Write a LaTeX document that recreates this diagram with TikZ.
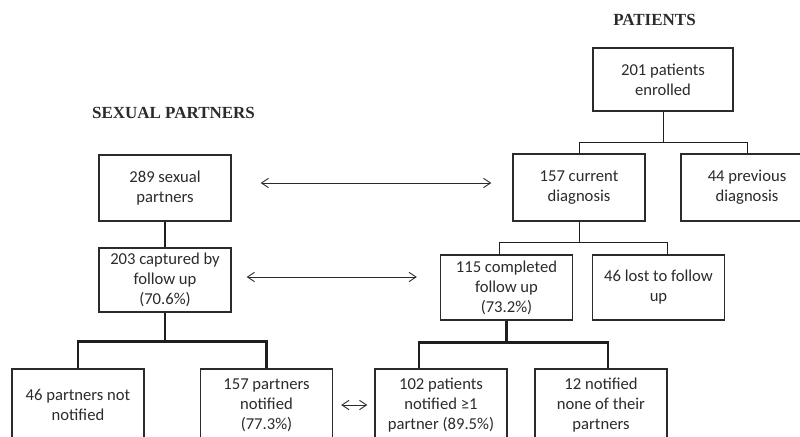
\documentclass[tikz,border=0pt]{standalone}
\usepackage{fontspec}
\setmainfont{Carlito}
\newfontfamily\headfont{Liberation Serif}
\usepackage{tikz}
\usetikzlibrary{calc,arrows.meta,positioning}
\definecolor{inkgray}{HTML}{2B2B2B}
\definecolor{linegray}{HTML}{1E1E1E}

\begin{document}
\begin{tikzpicture}[x=0.03cm, y=-0.03cm,
  box/.style={draw=inkgray, line width=1.1pt, fill=white, text=inkgray,
    minimum width=3.96cm, minimum height=1.98cm, inner sep=0pt, align=center,
    font=\fontsize{14.2}{17}\selectfont},
  lowbox/.style={box, minimum height=2.16cm},
  head/.style={text=inkgray, font=\headfont\fontsize{14.5}{17}\selectfont\bfseries},
  thinline/.style={draw=linegray, line width=0.8pt},
  thickline/.style={draw=linegray, line width=2pt},
  dblarr/.style={{Straight Barb[length=6pt,width=8pt]}-{Straight Barb[length=6pt,width=8pt]},
    draw=inkgray, line width=0.8pt}
]
  \useasboundingbox (0,0) rectangle (800,436);
  \clip (0,0) rectangle (800,436);

  % Headings
  \node[head] (hpat) at (654.5, 20) {PATIENTS};
  \node[head] (hsex) at (173.5, 113) {SEXUAL PARTNERS};

  % Patients
  \node[box, minimum width=4.2cm, minimum height=1.89cm] (enr) at (663, 79.5) {201 patients\\enrolled};
  \node[box, minimum height=2.01cm] (cur) at (579, 187.5) {157 current\\diagnosis};
  \node[box, minimum height=2.01cm] (prev) at (747, 187.5) {44 previous\\diagnosis};
  \node[box, minimum height=1.95cm] (comp) at (506.5, 287.5) {115 completed\\follow up\\(73.2\%)};
  \node[box, minimum height=1.95cm] (lost) at (658.5, 287.5) {46 lost to follow\\up};
  \node[lowbox] (pat) at (441, 405) {102 patients\\notified ≥1\\partner (89.5\%)};
  \node[lowbox] (none) at (601, 405) {12 notified\\none of their\\partners};

  % Sexual partners
  \node[box] (sex) at (165, 188) {289 sexual\\partners};
  \node[box, minimum height=1.92cm] (capt) at (165, 280) {203 captured by\\follow up\\(70.6\%)};
  \node[lowbox] (pnn) at (78, 405) {46 partners not\\notified};
  \node[lowbox] (pn) at (266.5, 405) {157 partners\\notified\\(77.3\%)};

  % Tree connectors
  \draw[thinline] (enr.south) -- ++(0,31) coordinate (s1);
  \draw[thinline] (s1) -| (cur.north);
  \draw[thinline] (s1) -| (prev.north);
  \draw[thinline] (cur.south) -- ++(0,21) coordinate (s2);
  \draw[thinline] (s2) -| ($(comp.north)+(-7.5,0)$);
  \draw[thinline] (s2) -| ($(lost.north)+(8.5,0)$);
  \draw[thickline] (comp.south) -- ++(0,22) coordinate (s3);
  \draw[thickline] (s3) -| ($(pat.north)+(-22,0)$);
  \draw[thickline] (s3) -| ($(none.north)+(7,0)$);

  \draw[thickline] (sex.south) -- (capt.north);
  \draw[thickline] (capt.south) -- ++(0,29) coordinate (s4);
  \draw[thickline] (s4) -| (pnn.north);
  \draw[thickline] (s4) -| (pn.north);

  % Links between the two groups
  \draw[dblarr, shorten <=0.87cm, shorten >=0.63cm]
    ($(sex.east)+(0,-5)$) -- ($(sex.east -| cur.west)+(0,-5)$);
  \draw[dblarr, shorten <=0.45cm, shorten >=0.69cm]
    ($(capt.east)+(0,-3)$) -- ($(capt.east -| comp.west)+(0,-3)$);
  \draw[dblarr, shorten <=0.24cm, shorten >=0.21cm]
    (pn.east) -- (pn.east -| pat.west);
\end{tikzpicture}
\end{document}
